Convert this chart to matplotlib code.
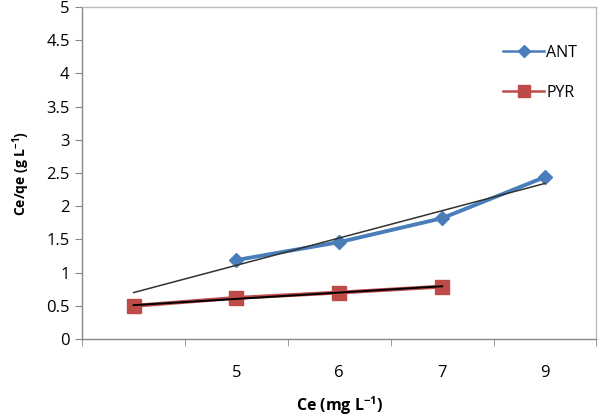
import numpy as np
import matplotlib
matplotlib.use("Agg")
import matplotlib.pyplot as plt
from matplotlib.ticker import FixedLocator

plt.rcParams['font.family'] = ['Open Sans', 'DejaVu Sans']
plt.rcParams['mathtext.default'] = 'regular'

categories = ['', '5', '6', '7', '9']
ant = [np.nan, 1.19, 1.46, 1.82, 2.44]
pyr = [0.50, 0.62, 0.70, 0.79, np.nan]

BLUE = '#4A7EBB'
RED = '#BE4B48'
GRID = '#888888'


def trend(y):
    # linear trendline fitted on the category index, extended over all categories
    x = np.arange(1, len(y) + 1)
    y = np.array(y)
    ok = ~np.isnan(y)
    k, b = np.polyfit(x[ok], y[ok], 1)
    return x, k * x + b


def main():
    fig = plt.figure(figsize=(6, 4.16), dpi=100)
    ax = fig.add_axes([0.137, 0.185, 0.857, 0.798])
    x = np.arange(1, len(categories) + 1)

    ax.plot(x, ant, color=BLUE, lw=2.8, marker='D', ms=7, label='ANT', zorder=3)
    ax.plot(x, pyr, color=RED, lw=2.8, marker='s', ms=10, label='PYR', zorder=3)

    tx, ty = trend(ant)
    ax.plot(tx, ty, color='#333333', lw=1.1, zorder=4)
    tx, ty = trend(pyr)
    ax.plot(tx[:4], ty[:4], color='black', lw=1.4, zorder=4)

    ax.set_xlim(0.5, len(categories) + 0.5)
    ax.set_ylim(0, 5)
    ax.set_yticks(np.arange(0, 5.01, 0.5))
    ax.set_yticklabels(['0', '0.5', '1', '1.5', '2', '2.5', '3', '3.5', '4', '4.5', '5'])
    ax.set_xticks(x)
    ax.set_xticklabels(categories)
    ax.xaxis.set_minor_locator(FixedLocator(np.arange(0.5, len(categories) + 1, 1)))
    ax.tick_params(axis='x', which='major', length=0, pad=19, labelsize=12)
    ax.tick_params(axis='x', which='minor', length=5, color=GRID, direction='out')
    ax.tick_params(axis='y', length=5, color=GRID, labelsize=12, pad=4)

    for s in ax.spines.values():
        s.set_color('#BBBBBB')
        s.set_linewidth(1)
    ax.spines['left'].set_color(GRID)
    ax.spines['bottom'].set_color(GRID)

    ax.set_xlabel('Ce (mg L$^{-1}$)', fontsize=11.5, fontweight='bold', labelpad=9)
    ax.set_ylabel('Ce/qe (g L$^{-1}$)', fontsize=10, fontweight='bold', labelpad=10)

    leg = ax.legend(loc='upper right', bbox_to_anchor=(0.99, 0.93), frameon=False,
                    fontsize=11.5, handlelength=2.6, handletextpad=0.1, labelspacing=1.5,
                    markerscale=0.85)
    for ln in leg.get_lines():
        ln.set_linewidth(1.8)

    fig.savefig('out.png', dpi=100)


if __name__ == '__main__':
    main()
